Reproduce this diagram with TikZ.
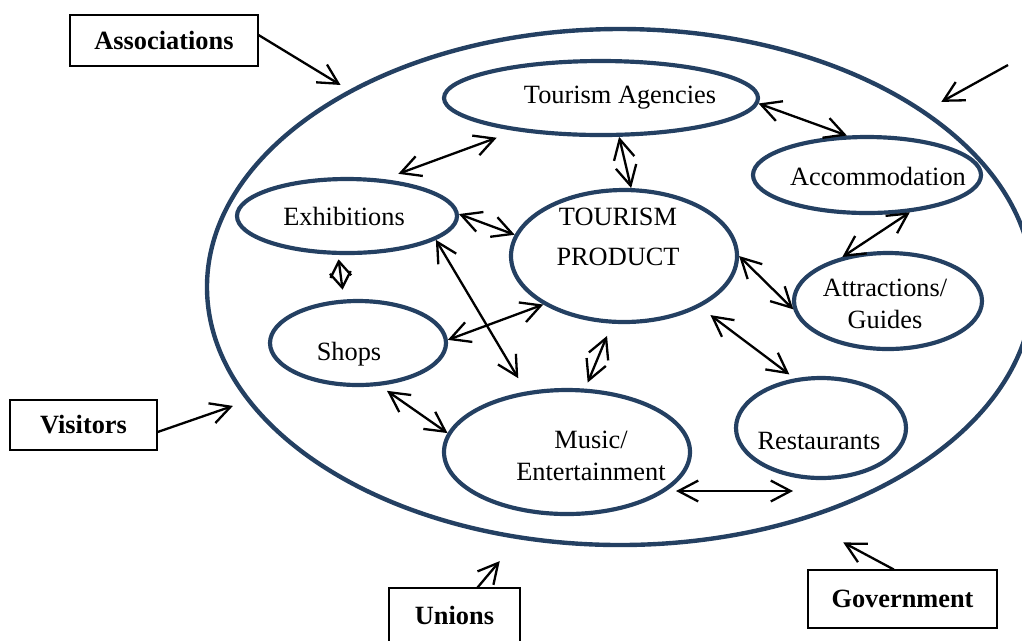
\documentclass[tikz,border=0pt]{standalone}
\usepackage{fontspec}
\setmainfont{Liberation Serif}
\usetikzlibrary{shapes.geometric,arrows.meta}
\definecolor{ringblue}{RGB}{36,64,98}

\begin{document}
\begin{tikzpicture}[
x=0.016cm,y=-0.016cm,
>={Straight Barb[length=9pt,width=9.5pt]},
every node/.append style={font={\fontsize{12}{14.5}\selectfont}},
blob/.style 2 args={ellipse,draw=ringblue,line width=1.9pt,inner sep=0pt,
  minimum width=#1*0.016cm,minimum height=#2*0.016cm},
party/.style 2 args={draw,line width=0.5pt,inner sep=0pt,
  font={\fontsize{12}{14.5}\selectfont\bfseries},
  minimum width=#1*0.016cm,minimum height=#2*0.016cm},
link/.style={<->,line width=1.05pt},
push/.style={->,line width=1.05pt},
]
\useasboundingbox (0,0) rectangle (1022,640);

% the whole setting
\node[blob={826}{516},line width=2pt] (ring) at (620,287) {};

% parts of the product
\node[blob={314}{74},label={[shift={(19,0)}]center:Tourism Agencies}] (ta) at (601,98) {};
\node[blob={228}{76},label={[shift={(11,1)}]center:Accommodation}] (acc) at (867,175) {};
\node[blob={220}{74},label={[shift={(-3,0)}]center:Exhibitions}] (ex) at (347,216) {};
\node[blob={226}{132},label={[align=center,shift={(-6,-19)}]center:TOURISM\\[4pt]PRODUCT}] (tp) at (624,256) {};
\node[blob={188}{96},label={[align=center,shift={(-3,3)}]center:Attractions/\\Guides}] (att) at (888,301) {};
\node[blob={176}{84},label={[shift={(-9,11)}]center:Shops}] (shops) at (358,343) {};
\node[blob={246}{124},label={[align=center,shift={(24,4)}]center:Music/\\Entertainment}] (mu) at (567,452) {};
\node[blob={170}{100},label={[shift={(-2,13)}]center:Restaurants}] (rest) at (821,428) {};

% outside parties
\node[party={188}{51}] (assoc) at (164,40.5) {Associations};
\node[party={147}{50}] (visitors) at (83.5,425) {Visitors};
\node[party={131}{54}] (unions) at (454.5,615) {Unions};
\node[party={189}{58}] (gov) at (902.5,599) {Government};
\coordinate (far) at (1008,65);

\draw[link,shorten <=7pt,shorten >=9pt] (ex.45) -- (ta.201);
\draw[link] (ta.295) -- (tp.84);
\draw[link] (ta.358) -- (acc.117);
\draw[link] (acc.319) -- (att.136);
\draw[link] (ex.1) -- (tp.169);
\draw[link,shorten >=7pt] (ex.345) -- (mu.124);
\draw[link] (shops.2) -- (tp.211);
\draw[link] (tp.0) -- (att.185);
\draw[link,shorten <=6pt,shorten >=3pt] (tp.326) -- (rest.118);
\draw[link,shorten <=6pt,shorten >=3pt] (tp.260) -- (mu.74);
\draw[link,shorten <=4pt] (shops.297) -- (mu.171);
\draw[link] ([shift={(109,39)}]mu.center) -- ([shift={(-28,63)}]rest.center);
\draw[link,>={Straight Barb[length=7pt,width=9.5pt]},shorten <=2pt,shorten >=4.5pt] (ex.257) -- (shops.108);

\draw[push,shorten >=4.4pt] ([yshift=2.5pt]assoc.east) -- (ring.144);
\draw[push,shorten >=8.3pt] (far) -- (ring.30);
\draw[push,shorten >=6.7pt] ([yshift=-3.2pt]visitors.east) -- (ring.197);
\draw[push,shorten >=13pt] ([xshift=10.5pt]unions.north) -- (ring.248);
\draw[push,shorten >=21pt] ([xshift=-4pt]gov.north) -- (ring.308);

\end{tikzpicture}
\end{document}
